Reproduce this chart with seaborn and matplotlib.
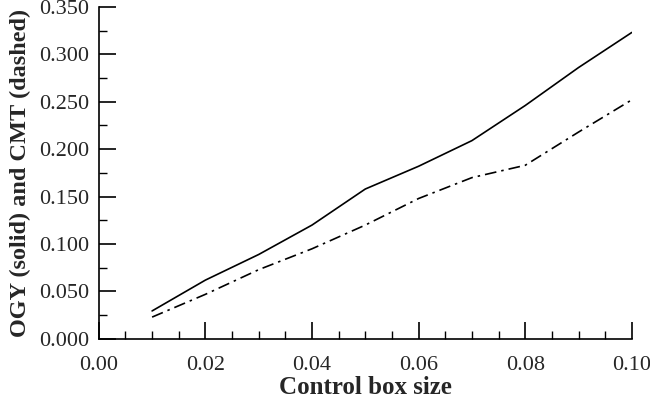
import numpy as np
import pandas as pd
import seaborn as sns
import matplotlib
matplotlib.use('Agg')
import matplotlib.pyplot as plt
from matplotlib.ticker import MultipleLocator, FormatStrFormatter

box_size = [0.01, 0.02, 0.03, 0.04, 0.05, 0.06, 0.07, 0.08, 0.09, 0.10]
ogy = [0.0295, 0.062, 0.089, 0.120, 0.158, 0.182, 0.209, 0.246, 0.286, 0.323]
cmt = [0.023, 0.047, 0.073, 0.095, 0.120, 0.148, 0.170, 0.183, 0.218, 0.252]

df = pd.DataFrame({'size': box_size, 'OGY': ogy, 'CMT': cmt})

sns.set_style('white')
plt.rcParams['font.family'] = ['Liberation Serif', 'DejaVu Serif']

fig = plt.figure(figsize=(6.5, 4.03), dpi=100)
ax = fig.add_axes([0.152, 0.159, 0.82, 0.824])

sns.lineplot(data=df, x='size', y='OGY', ax=ax, color='black', lw=1.2)
sns.lineplot(data=df, x='size', y='CMT', ax=ax, color='black', lw=1.2,
             linestyle=(0, (7, 3, 1.5, 3)))

ax.set_xlim(0, 0.10)
ax.set_ylim(0, 0.35)
ax.xaxis.set_major_locator(MultipleLocator(0.02))
ax.xaxis.set_minor_locator(MultipleLocator(0.005))
ax.yaxis.set_major_locator(MultipleLocator(0.05))
ax.yaxis.set_minor_locator(MultipleLocator(0.025))
ax.xaxis.set_major_formatter(FormatStrFormatter('%.2f'))
ax.yaxis.set_major_formatter(FormatStrFormatter('%.3f'))

ax.tick_params(which='major', direction='in', length=12, width=1.2, labelsize=16, color='black')
ax.tick_params(which='minor', direction='in', length=6, width=1.0, color='black')
ax.tick_params(axis='x', which='both', bottom=True, pad=12)
ax.tick_params(axis='y', which='both', left=True, pad=7)

for s in ['top', 'right']:
    ax.spines[s].set_visible(False)
for s in ['left', 'bottom']:
    ax.spines[s].set_color('black')
    ax.spines[s].set_linewidth(1.2)

ax.set_xlabel('Control box size', fontsize=18, fontweight='bold', labelpad=1)
ax.set_ylabel('OGY (solid) and CMT (dashed)', fontsize=17.5, fontweight='bold', labelpad=6)

fig.savefig('out.png', dpi=100)
